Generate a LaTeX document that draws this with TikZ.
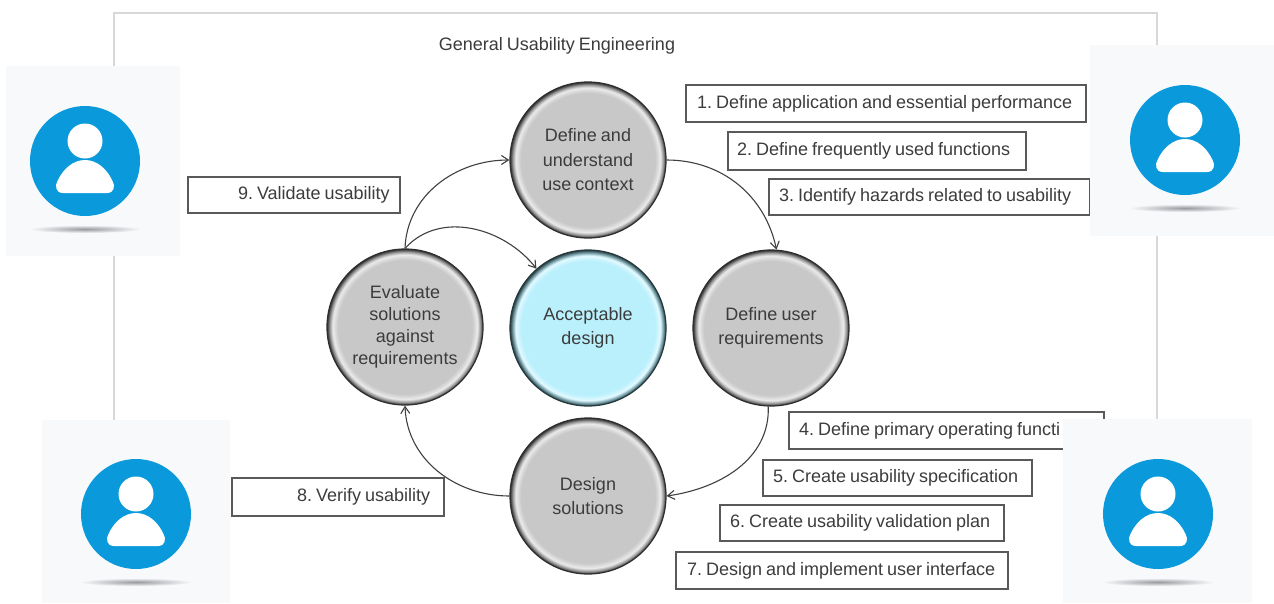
\documentclass[tikz,border=0pt]{standalone}
\usepackage{fontspec}
\setmainfont[WordSpace=0.8]{Liberation Sans}
\usetikzlibrary{arrows.meta}
\definecolor{ink}{HTML}{3C3C3C}
\definecolor{framec}{HTML}{D8D8D8}
\definecolor{panelc}{HTML}{F7F9FB}
\definecolor{userblue}{HTML}{0A9ADB}
\definecolor{rimgray}{HTML}{2E2E2E}
\definecolor{rimblue}{HTML}{263A3E}
\pgfdeclareradialshading{bevelgray}{\pgfpoint{0bp}{0bp}}{
  rgb(0bp)=(0.785,0.785,0.785);
  rgb(21.5bp)=(0.785,0.785,0.785);
  rgb(23.2bp)=(0.92,0.92,0.92);
  rgb(24.1bp)=(0.6,0.6,0.6);
  rgb(25bp)=(0.18,0.18,0.18);
  rgb(50bp)=(0.18,0.18,0.18)}
\pgfdeclareradialshading{bevelblue}{\pgfpoint{0bp}{0bp}}{
  rgb(0bp)=(0.73,0.94,0.99);
  rgb(21.5bp)=(0.73,0.94,0.99);
  rgb(23.2bp)=(0.89,0.98,1);
  rgb(24.1bp)=(0.47,0.63,0.67);
  rgb(25bp)=(0.15,0.23,0.24);
  rgb(50bp)=(0.15,0.23,0.24)}
\pgfdeclareradialshading{usershadow}{\pgfpoint{0bp}{0bp}}{
  rgb(0bp)=(0.6,0.6,0.62);
  rgb(25bp)=(0.97,0.976,0.984);
  rgb(50bp)=(0.97,0.976,0.984)}
\tikzset{
  x=1pt,y=-1pt,
  every node/.style={font=\fontsize{18}{24.5}\selectfont,text=ink},
  disc/.style={circle,inner sep=0pt,minimum size=156pt,align=center,shading=bevelgray,draw=rimgray,line width=1.2pt},
  discblue/.style={disc,shading=bevelblue,draw=rimblue},
  tbox/.style 2 args={draw=black!65,line width=1.2pt,rectangle,inner xsep=0pt,inner ysep=0pt,
    text width=#1 pt,minimum height=#2 pt,align=flush left,
    execute at begin node={\frenchspacing\hyphenpenalty=10000}},
  link/.style={draw=black!75,line width=1.1pt,-{Straight Barb[length=7pt,width=9pt]}},
  panel/.style={fill=panelc,draw=none},
  userpic/.pic={
    \fill[userblue] (0,0) circle[radius=55];
    \fill[white] (0,-20) circle[radius=17.5];
    \fill[white] (-22,32) .. controls (-30,32) and (-30,24) .. (-27.5,20)
      .. controls (-22,8) and (-12,-1) .. (0,-1)
      .. controls (12,-1) and (22,8) .. (27.5,20)
      .. controls (30,24) and (30,32) .. (22,32) -- cycle;
    \shade[shading=usershadow] (0,68) ellipse[x radius=56,y radius=4];
  }
}
\begin{document}
\begin{tikzpicture}
\useasboundingbox (0,0) rectangle (1274,603);
\fill[white] (0,0) rectangle (1274,603);
\draw[framec,line width=1.3pt] (114,603) -- (114,13) -- (1157,13) -- (1157,603);
\node (title) at (557,46) {General Usability Engineering};

\node[disc] (top) at (588,160) {Define and\\understand\\use context};
\node[disc] (right) at (771,328) {Define user\\requirements};
\node[disc] (bottom) at (588,496) {Design\\solutions};
\node[disc,font=\fontsize{18}{22}\selectfont] (left) at (405,327) {Evaluate\\solutions\\against\\requirements};
\node[discblue] (centre) at (588,328) {Acceptable\\design};

\draw[link] (top.east) to[out=0,in=102] (right.86);
\draw[link] (right.268) to[out=-88,in=8] (bottom.east);
\draw[link] (bottom.west) to[out=180,in=-88] (left.south);
\draw[link] (left.north) to[out=88,in=180] (top.west);
\draw[link] (left.north) to[out=48,in=128] (centre.131);

\node[tbox={400}{37}] (b1) at (886,103.5) {\hspace*{11pt}1. Define application and essential performance};
\node[tbox={298}{38}] (b2) at (877,151) {\hspace*{9pt}2. Define frequently used functions};
\node[tbox={321}{36}] (b3) at (929.5,197) {\hspace*{10pt}3. Identify hazards related to usability};
\node[tbox={212}{36}] (b9) at (294,195) {\hspace*{50pt}9. Validate usability};
\node[tbox={212}{38}] (b8) at (338,497) {\hspace*{65pt}8. Verify usability};
\node[tbox={315}{37}] (b4) at (946.5,430.5) {\hspace*{10pt}4. Define primary operating functi};
\node[tbox={269}{36}] (b5) at (897.5,478) {\hspace*{10pt}5. Create usability specification};
\node[tbox={284}{36}] (b6) at (862,523) {\hspace*{10pt}6. Create usability validation plan};
\node[tbox={332}{37}] (b7) at (842,570.5) {\hspace*{11pt}7. Design and implement user interface};

\fill[panel] (6,66) rectangle (180,256);
\pic at (85,161) {userpic};
\fill[panel] (1090,45) rectangle (1274,236);
\pic at (1185,140) {userpic};
\fill[panel] (42,420) rectangle (230,603);
\pic at (136,514) {userpic};
\fill[panel] (1063,419) rectangle (1252,603);
\pic at (1158,514) {userpic};
\end{tikzpicture}
\end{document}
